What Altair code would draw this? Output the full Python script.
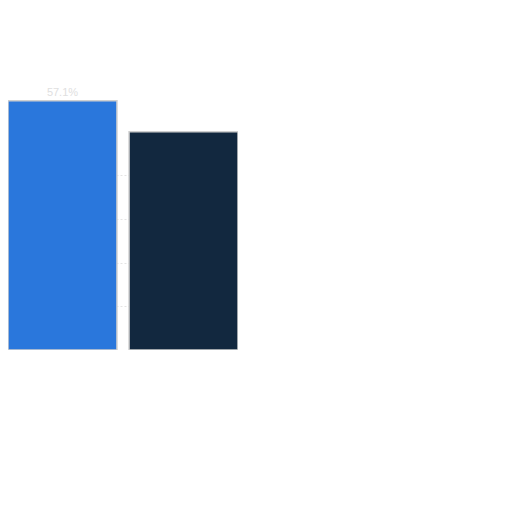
import altair as alt
import pandas as pd

categories = ["A", "B"]
values = [57.1, 50.0]
labels = ["57.1%", ""]
colors = ["#2a77dc", "#12283f"]

df = pd.DataFrame({"cat": categories, "value": values, "label": labels, "color": colors})

base = alt.Chart(df).encode(
    x=alt.X("cat:N", sort=categories,
            scale=alt.Scale(paddingInner=0.1, paddingOuter=0),
            axis=alt.Axis(title=None, labels=False, ticks=False, domain=True,
                          domainColor="#e6e6e6", grid=False)),
)

bars = base.mark_bar(stroke="#cfcfcf", strokeWidth=1.5).encode(
    y=alt.Y("value:Q", scale=alt.Scale(domain=[0, 60]),
            axis=alt.Axis(title=None, labels=False, ticks=False, domain=False,
                          grid=True, gridColor="#e4e4e4", gridDash=[2, 2],
                          values=[10, 20, 30, 40])),
    color=alt.Color("color:N", scale=None, legend=None),
)

text = base.mark_text(dy=-8, color="#e0e0e0", fontSize=11, font="Liberation Sans").encode(
    y="value:Q", text="label:N"
)

chart = (bars + text).properties(
    width=230, height=262,
    autosize=alt.AutoSizeParams(type="none"),
    padding={"left": 0, "top": 80, "right": 0, "bottom": 0},
).configure_view(stroke=None)

chart.save("out.html", embed_options={"renderer": "svg", "actions": False})
